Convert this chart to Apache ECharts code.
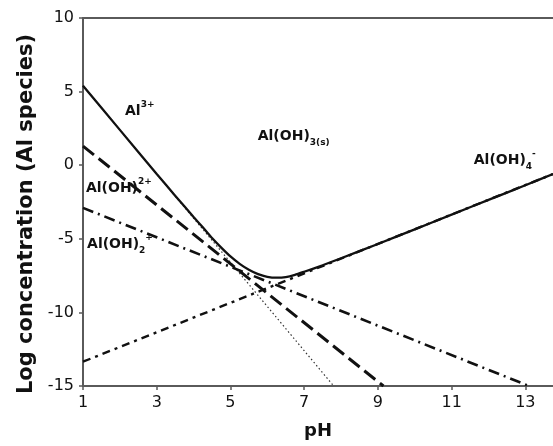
<!DOCTYPE html>
<html>
<head>
<meta charset="utf-8">
<script src="https://cdn.jsdelivr.net/npm/echarts@6/dist/echarts.min.js"></script>
<style>
html,body{margin:0;padding:0;background:#fff;}
#chart{width:553px;height:446px;}
</style>
</head>
<body>
<div id="chart"></div>
<script>
// ---- data ----
const xTicks = [1, 3, 5, 7, 9, 11, 13];
const yTicks = [-15, -10, -5, 0, 5, 10];

// straight species lines: [pH, log C] endpoints
const al3 = [[1, 5.4], [7.8, -15]];
const alOH = [[1, 1.3], [9.15, -15]];
const alOH2 = [[1, -2.9], [13.1, -15]];
const alOH4 = [[1, -13.35], [13.75, -0.6]];

// total dissolved Al (solid curve)
const totalPH = [1, 2, 3, 3.5, 4, 4.25, 4.5, 4.75, 5, 5.25, 5.5, 5.75, 6, 6.25, 6.5, 6.75, 7, 7.5, 8, 9, 10, 11, 12, 13, 13.75];
const totalLogC = [5.4, 2.4, -0.6, -2.07, -3.52, -4.22, -4.95, -5.6, -6.2, -6.7, -7.1, -7.4, -7.58, -7.64, -7.6, -7.45, -7.24, -6.8, -6.32, -5.35, -4.36, -3.36, -2.36, -1.36, -0.6];

// species labels
const labelText = ['{b|Al}{sup|3+}', '{b|Al(OH)}{sub|3(s)}', '{b|Al(OH)}{sub|4}{sup|-}', '{b|Al(OH)}{sup|2+}', '{b|Al(OH)}{sub|2}{sup|+}'];
const labelPH = [2.14, 5.74, 11.6, 1.08, 1.11];
const labelLogC = [3.65, 1.98, 0.35, -1.55, -5.35];

const chart = echarts.init(document.getElementById('chart'), null, {renderer: 'canvas'});
const FONT = 'DejaVu Sans';
const AX = '#5a5a5a';
const INK = '#111';
const TXT = '#111';

const option = {
  animation: false,
  backgroundColor: '#fff',
  grid: {left: 83, top: 18, right: 0, bottom: 60},
  xAxis: [{
    type: 'value', min: 1, max: 13.75, position: 'bottom',
    name: 'pH', nameLocation: 'middle', nameGap: 36,
    nameTextStyle: {fontFamily: FONT, fontWeight: 'bold', fontSize: 18, color: TXT},
    axisLine: {show: true, onZero: false, lineStyle: {color: AX, width: 2}},
    axisTick: {show: true, length: 4, inside: false, customValues: xTicks, lineStyle: {color: AX, width: 1.5}},
    axisLabel: {customValues: xTicks, fontFamily: FONT, fontSize: 16, color: TXT, margin: 9},
    splitLine: {show: false}
  }, {
    type: 'value', position: 'top', min: 1, max: 13.75,
    axisLine: {show: true, onZero: false, lineStyle: {color: AX, width: 2}},
    axisTick: {show: false}, axisLabel: {show: false}, splitLine: {show: false}
  }],
  yAxis: {
    type: 'value', min: -15, max: 10, interval: 5,
    name: 'Log concentration (Al species)', nameLocation: 'middle', nameGap: 44, nameRotate: 90,
    nameTextStyle: {fontFamily: FONT, fontWeight: 'bold', fontSize: 21, color: TXT, padding: [0, 24, 0, 0]},
    axisLine: {show: true, onZero: false, lineStyle: {color: AX, width: 2}},
    axisTick: {show: true, length: 4, lineStyle: {color: AX, width: 1.5}},
    axisLabel: {fontFamily: FONT, fontSize: 16, color: TXT, margin: 9},
    splitLine: {show: false}
  },
  series: [
    {type: 'line', data: al3, symbol: 'none', z: 2,
     lineStyle: {color: '#333', width: 1.2, type: [1.5, 2.5]}},
    {type: 'line', data: alOH, symbol: 'none', z: 3,
     lineStyle: {color: INK, width: 3, type: [14, 6]}},
    {type: 'line', data: alOH2, symbol: 'none', z: 3,
     lineStyle: {color: INK, width: 2.6, type: [11, 5, 2, 5]}},
    {type: 'line', data: alOH4, symbol: 'none', z: 3,
     lineStyle: {color: INK, width: 2.4, type: [8, 5, 3, 5]}},
    {type: 'line', data: totalPH.map((p, i) => [p, totalLogC[i]]), symbol: 'none', smooth: 0.2, z: 5,
     lineStyle: {color: INK, width: 2.3}},
    {type: 'scatter', symbolSize: 0, z: 6, silent: true,
     itemStyle: {opacity: 1},
     data: labelPH.map((p, i) => ({value: [p, labelLogC[i]], name: labelText[i]})),
     label: {
       show: true, position: 'right', distance: 0, color: TXT, opacity: 1,
       formatter: (d) => d.name,
       rich: {
         b: {fontFamily: FONT, fontWeight: 'bold', fontSize: 14, color: TXT, lineHeight: 22},
         sup: {fontFamily: FONT, fontWeight: 'bold', fontSize: 9, color: TXT, verticalAlign: 'top', lineHeight: 22},
         sub: {fontFamily: FONT, fontWeight: 'bold', fontSize: 9, color: TXT, verticalAlign: 'bottom', lineHeight: 22}
       }
     }}
  ]
};
chart.setOption(option);
</script>
</body>
</html>
